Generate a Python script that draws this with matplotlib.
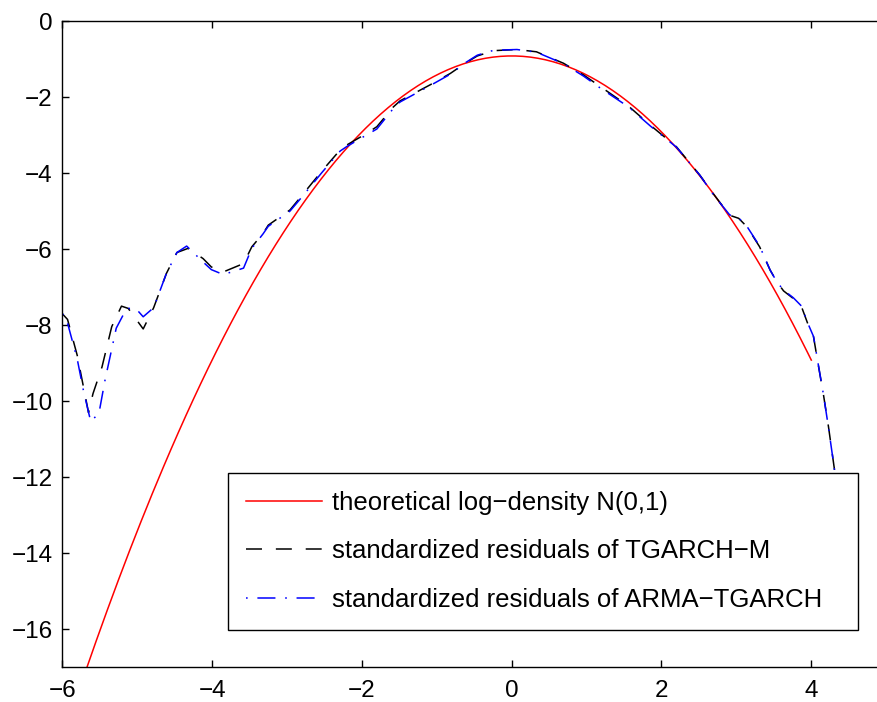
import numpy as np
import matplotlib
matplotlib.use("Agg")
import matplotlib.pyplot as plt

plt.rcParams['font.family'] = ['Liberation Sans', 'DejaVu Sans']
plt.rcParams['lines.scale_dashes'] = False

# theoretical log-density N(0,1) grid
x_theory = np.linspace(-6, 4, 201)
y_theory = -0.5 * x_theory ** 2 - 0.5 * np.log(2 * np.pi)

# standardized residuals of TGARCH-M (log kernel density)
x_tgarch = [-6.00, -5.93, -5.80, -5.72, -5.65, -5.59, -5.47, -5.34, -5.21, -5.12,
            -4.92, -4.78, -4.61, -4.47, -4.32, -4.12, -4.01, -3.85, -3.58, -3.47,
            -3.32, -3.25, -2.96, -2.78, -2.54, -2.29, -2.20, -1.94, -1.80, -1.58,
            -1.49, -1.09, -0.82, -0.62, -0.46, -0.24, 0.07, 0.33, 0.69, 0.96,
            1.18, 1.56, 1.85, 2.20, 2.51, 2.69, 2.91, 3.03, 3.14, 3.31,
            3.45, 3.54, 3.63, 3.76, 3.87, 3.96, 4.03, 4.09, 4.16, 4.23, 4.32]
y_tgarch = [-7.70, -7.85, -8.80, -9.60, -10.30, -9.80, -9.10, -8.04, -7.50, -7.56,
            -8.10, -7.54, -6.64, -6.09, -5.98, -6.25, -6.47, -6.60, -6.38, -5.94,
            -5.59, -5.37, -4.97, -4.54, -3.96, -3.39, -3.26, -2.96, -2.78, -2.26,
            -2.10, -1.68, -1.38, -1.11, -0.92, -0.78, -0.75, -0.81, -1.11, -1.42,
            -1.72, -2.24, -2.74, -3.31, -4.05, -4.54, -5.11, -5.19, -5.41, -5.94,
            -6.55, -6.86, -7.10, -7.30, -7.52, -8.00, -8.31, -9.01, -9.80, -10.68, -11.95]

# standardized residuals of ARMA-TGARCH (log kernel density)
x_arma = [-6.00, -5.95, -5.80, -5.72, -5.62, -5.51, -5.43, -5.28, -5.20, -5.14,
          -5.02, -4.92, -4.78, -4.61, -4.47, -4.34, -4.12, -4.01, -3.85, -3.58,
          -3.47, -3.32, -3.25, -2.96, -2.78, -2.54, -2.29, -2.20, -1.94, -1.80,
          -1.58, -1.49, -1.09, -0.82, -0.62, -0.46, -0.24, 0.07, 0.33, 0.69,
          0.96, 1.18, 1.56, 1.85, 2.20, 2.51, 2.69, 2.91, 3.03, 3.14,
          3.31, 3.45, 3.54, 3.63, 3.76, 3.87, 3.96, 4.03, 4.09, 4.16, 4.23, 4.32]
y_arma = [-7.70, -7.80, -8.90, -9.70, -10.54, -10.31, -9.45, -8.08, -7.78, -7.56,
          -7.56, -7.78, -7.54, -6.64, -6.09, -5.92, -6.34, -6.54, -6.67, -6.50,
          -5.98, -5.60, -5.40, -5.00, -4.58, -4.00, -3.42, -3.30, -3.00, -2.84,
          -2.30, -2.13, -1.70, -1.40, -1.10, -0.90, -0.77, -0.75, -0.82, -1.12,
          -1.45, -1.76, -2.26, -2.76, -3.32, -4.05, -4.56, -5.10, -5.18, -5.40,
          -5.92, -6.55, -6.86, -7.08, -7.28, -7.50, -7.98, -8.30, -9.00, -9.80, -10.70, -11.95]

labels = ['theoretical log\u2212density N(0,1)',
          'standardized residuals of TGARCH\u2212M',
          'standardized residuals of ARMA\u2212TGARCH']
xticks = [-6, -4, -2, 0, 2, 4]
yticks = [0, -2, -4, -6, -8, -10, -12, -14, -16]

FS = 17.5
LFS = 18.5
W, H = 877, 702
fig = plt.figure(figsize=(W / 100, H / 100), dpi=100)
ax = fig.add_axes([62.3 / W, 1 - 667.3 / H, 823.9 / W, 646.3 / H])

ax.plot(x_theory, y_theory, color='#ff0000', lw=1.1, label=labels[0])
ax.plot(x_tgarch, y_tgarch, color='black', lw=1.1, linestyle=(0, (11.5, 10)), label=labels[1])
ax.plot(x_arma, y_arma, color='#0000ff', lw=1.1, linestyle=(0, (1.2, 7, 13, 7)), label=labels[2])

ax.set_xlim(-6, 5)
ax.set_ylim(-17, 0)
ax.set_xticks(xticks)
ax.set_yticks(yticks)
ax.set_xticklabels(['\u2212%d' % -v if v < 0 else '%d' % v for v in xticks])
ax.set_yticklabels(['\u2212%d' % -v if v < 0 else '%d' % v for v in yticks])
ax.tick_params(direction='in', length=5, width=1.0, labelsize=FS, top=True, right=True,
               pad=7)
ax.tick_params(axis='x', pad=9)
for s in ax.spines.values():
    s.set_linewidth(1.0)

x0, x1 = 228 / W, 858 / W
ytop = 1 - 473 / H
leg = ax.legend(loc='upper left', bbox_to_anchor=(x0, ytop - 0.2, x1 - x0, 0.2),
                bbox_transform=fig.transFigure, mode='expand', fontsize=LFS, frameon=True,
                fancybox=False, edgecolor='black', framealpha=1,
                handlelength=2.95, handletextpad=0.4, borderpad=0.7,
                labelspacing=0.95, borderaxespad=0)
leg.get_frame().set_linewidth(1.0)

fig.savefig('out.png', dpi=100)
